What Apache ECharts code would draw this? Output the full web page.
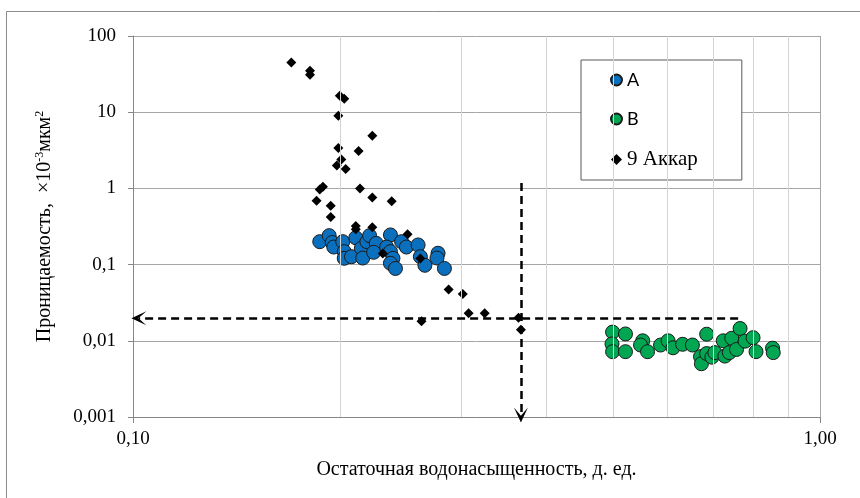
<!doctype html>
<html lang="ru">
  <head>
    <meta charset="UTF-8" />
    <title>Проницаемость - остаточная водонасыщенность</title>
    <script src="https://fastly.jsdelivr.net/npm/echarts@6/dist/echarts.min.js"></script>
    <style>
      * { margin: 0; padding: 0; }
      html, body, #chart { width: 100%; height: 100%; overflow: hidden; background: #fff; }
    </style>
  </head>
  <body>
    <div id="chart"></div>
    <script>
      // tick labels
      const xTickLabels = ['0,10', '1,00'];
      const yTickLabels = ['0,001', '0,01', '0,1', '1', '10', '100'];
      const xMinorGrid = [0.2, 0.3, 0.4, 0.5, 0.6, 0.7, 0.8, 0.9];

      const seriesNames = ['A', 'B', '9 Аккар'];

      // [водонасыщенность, проницаемость]
      const dataA = [
        [0.187, 0.2], [0.193, 0.24], [0.195, 0.195], [0.196, 0.17], [0.202, 0.2],
        [0.203, 0.148], [0.203, 0.121], [0.208, 0.127], [0.211, 0.225], [0.215, 0.164],
        [0.216, 0.122], [0.219, 0.2], [0.221, 0.24], [0.226, 0.19], [0.224, 0.145],
        [0.237, 0.245], [0.234, 0.17], [0.237, 0.148], [0.239, 0.121], [0.237, 0.104],
        [0.241, 0.089], [0.246, 0.2], [0.25, 0.17], [0.26, 0.181], [0.262, 0.127],
        [0.266, 0.098], [0.278, 0.141], [0.277, 0.122], [0.284, 0.089]
      ];
      const dataB = [
        [0.499, 0.013], [0.521, 0.0123], [0.498, 0.0091], [0.499, 0.0072], [0.521, 0.0072],
        [0.552, 0.01], [0.548, 0.0088], [0.561, 0.0072], [0.586, 0.0088], [0.601, 0.01],
        [0.611, 0.0081], [0.631, 0.009], [0.652, 0.0088], [0.684, 0.0122], [0.67, 0.0062],
        [0.672, 0.005], [0.684, 0.0068], [0.696, 0.0061], [0.703, 0.007], [0.723, 0.01],
        [0.727, 0.0063], [0.738, 0.007], [0.744, 0.0108], [0.765, 0.0145], [0.756, 0.0077],
        [0.778, 0.0099], [0.799, 0.011], [0.807, 0.0072], [0.853, 0.008], [0.855, 0.007]
      ];
      const dataAkkar = [
        [0.17, 45], [0.181, 35], [0.181, 31], [0.2, 16.5], [0.203, 15],
        [0.199, 9], [0.223, 4.9], [0.199, 3.4], [0.213, 3.1], [0.201, 2.4],
        [0.198, 2.0], [0.204, 1.8], [0.189, 1.05], [0.187, 0.97], [0.214, 1.0],
        [0.185, 0.69], [0.223, 0.76], [0.238, 0.68], [0.194, 0.59], [0.194, 0.42],
        [0.211, 0.32], [0.211, 0.29], [0.223, 0.31], [0.251, 0.25], [0.231, 0.14],
        [0.262, 0.12], [0.288, 0.047], [0.302, 0.041], [0.308, 0.023], [0.325, 0.023],
        [0.263, 0.018], [0.364, 0.02], [0.367, 0.014]
      ];

      // dashed guide lines: [start, end]
      const guideHorizontal = [[0.76, 0.0197], [0.102, 0.0197]];
      const guideVertical = [[0.367, 1.18], [0.367, 0.00106]];

      const serif = 'Liberation Serif';
      const arrowHead = 'path://M6,0 L12,13 L6,6 L0,13 Z';

      const guide = (pts) => [{ coord: pts[0] }, { coord: pts[1] }];

      const chart = echarts.init(document.getElementById('chart'));
      chart.setOption({
        animation: false,
        backgroundColor: '#fff',
        textStyle: { fontFamily: serif },
        graphic: [
          {
            type: 'rect',
            shape: { x: 6.5, y: 11.5, width: 900, height: 600 },
            style: { fill: 'none', stroke: '#8c8c8c', lineWidth: 1 },
            silent: true
          }
        ],
        grid: { left: 133, right: 40, top: 36, bottom: 81 },
        legend: {
          data: seriesNames,
          orient: 'vertical',
          left: 581,
          top: 60,
          itemWidth: 11,
          itemHeight: 11,
          itemGap: 21,
          padding: [11, 44, 10, 29],
          backgroundColor: '#fff',
          borderColor: '#595959',
          borderWidth: 1,
          borderRadius: 0,
          selectedMode: false,
          formatter: (name) => (name === seriesNames[2] ? '{s|' + name + '}' : '{a|' + name + '}'),
          textStyle: {
            color: '#000',
            fontFamily: serif,
            fontSize: 20,
            rich: {
              a: { fontFamily: 'Lato', fontSize: 18, color: '#000' },
              s: { fontFamily: serif, fontSize: 21, color: '#000' }
            }
          }
        },
        xAxis: {
          type: 'log',
          logBase: 10,
          min: 0.1,
          max: 1,
          name: 'Остаточная водонасыщенность, д. ед.',
          nameLocation: 'middle',
          nameGap: 43,
          nameTextStyle: { fontFamily: serif, fontSize: 20, color: '#000' },
          axisLine: { lineStyle: { color: '#868686', width: 1 } },
          axisTick: { show: true, inside: false, length: 6, lineStyle: { color: '#868686' } },
          axisLabel: {
            fontFamily: serif,
            fontSize: 19,
            color: '#000',
            margin: 13,
            formatter: (v) => xTickLabels[Math.round(Math.log10(v) + 1)]
          },
          splitLine: { show: true, lineStyle: { color: '#a6a6a6', width: 1 } }
        },
        yAxis: {
          type: 'log',
          logBase: 10,
          min: 0.001,
          max: 100,
          name: '{t|Проницаемость,  ×10}{s|-3}{t|мкм}{s|2}',
          nameLocation: 'middle',
          nameGap: 77,
          nameTextStyle: {
            color: '#000',
            rich: {
              t: { fontFamily: serif, fontSize: 20, color: '#000', lineHeight: 22 },
              s: { fontFamily: serif, fontSize: 12, color: '#000', verticalAlign: 'top', lineHeight: 22 }
            }
          },
          axisLine: { show: true, lineStyle: { color: '#868686', width: 1 } },
          axisTick: { show: true, inside: false, length: 5, lineStyle: { color: '#868686' } },
          axisLabel: {
            fontFamily: serif,
            fontSize: 19,
            color: '#000',
            margin: 17,
            formatter: (v) => yTickLabels[Math.round(Math.log10(v) + 3)]
          },
          splitLine: { show: true, lineStyle: { color: '#a6a6a6', width: 1 } }
        },
        series: [
          {
            name: 'minor-grid',
            type: 'line',
            data: [],
            silent: true,
            z: 1,
            markLine: {
              silent: true,
              symbol: 'none',
              label: { show: false },
              lineStyle: { color: '#d4d4d4', width: 1, type: 'solid' },
              data: xMinorGrid.map((v) => ({ xAxis: v }))
            }
          },
          {
            name: seriesNames[0],
            type: 'scatter',
            data: dataA,
            symbol: 'circle',
            symbolSize: 14,
            z: 3,
            itemStyle: { color: '#0a6fbd', borderColor: '#1a1a1a', borderWidth: 1, opacity: 1 }
          },
          {
            name: seriesNames[1],
            type: 'scatter',
            data: dataB,
            symbol: 'circle',
            symbolSize: 14,
            z: 3,
            itemStyle: { color: '#00a651', borderColor: '#1a1a1a', borderWidth: 1, opacity: 1 }
          },
          {
            name: seriesNames[2],
            type: 'scatter',
            data: dataAkkar,
            symbol: 'diamond',
            symbolSize: 10,
            z: 4,
            itemStyle: { color: '#000', opacity: 1 }
          },
          {
            name: 'guides',
            type: 'line',
            data: [],
            silent: true,
            z: 5,
            markLine: {
              silent: true,
              symbol: ['none', arrowHead],
              symbolSize: [14, 15],
              label: { show: false },
              lineStyle: { color: '#000', width: 2.5, type: [8, 5] },
              itemStyle: { color: '#000' },
              data: [guide(guideHorizontal), guide(guideVertical)]
            }
          }
        ]
      });
    </script>
  </body>
</html>
